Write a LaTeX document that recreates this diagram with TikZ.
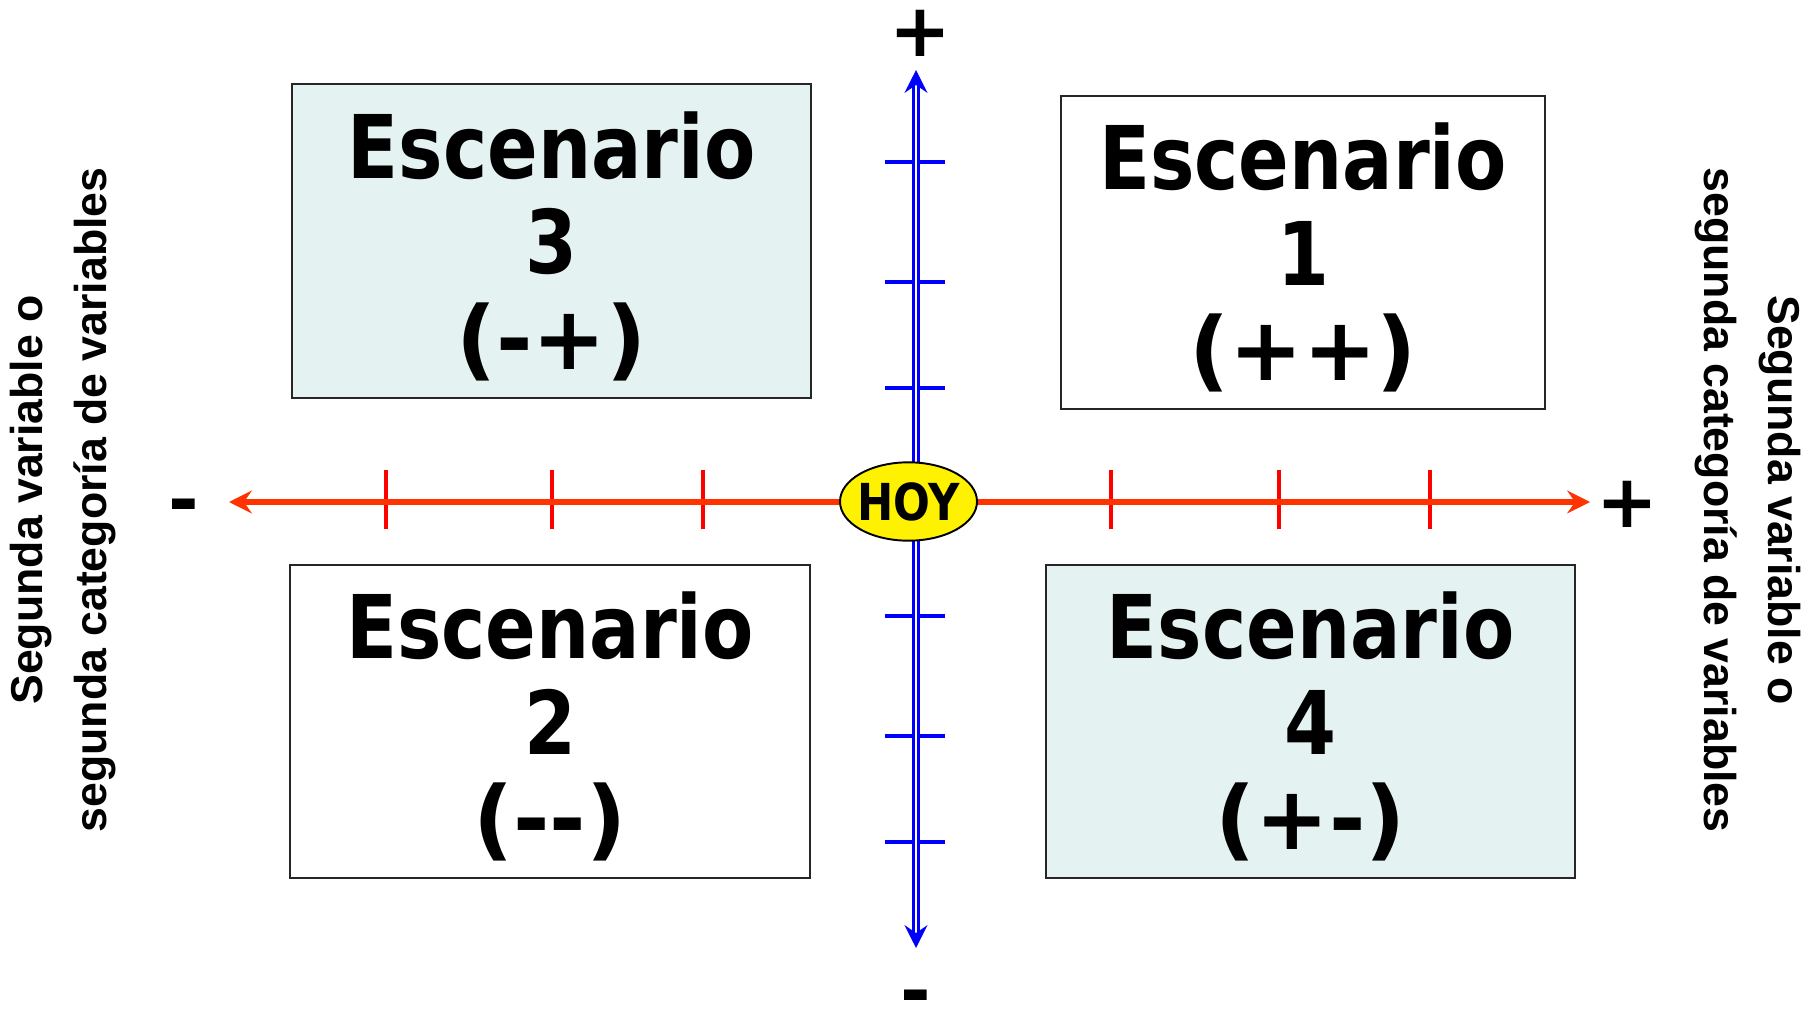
\documentclass[tikz,border=0pt]{standalone}
\usepackage{fontspec}
\usepackage{tikz}
\usetikzlibrary{arrows.meta,shapes.geometric}
\newfontfamily\scenfont[FakeStretch=0.85]{DejaVu Sans}
\newfontfamily\signfont{DejaVu Sans}
\newfontfamily\sidefont{Liberation Sans}
\definecolor{axisorange}{RGB}{255,51,0}
\definecolor{tickred}{RGB}{255,0,0}
\definecolor{scenblue}{RGB}{229,242,242}

\tikzset{
    scenbox/.style={draw=black!85, line width=0.8pt},
    scentext/.style={font=\scenfont\bfseries\fontsize{50}{54.3}\selectfont, align=center, inner sep=0pt, yshift=-3pt},
    haxis/.style={draw=axisorange, line width=3.7pt, -{Stealth[length=13pt,width=13pt,inset=4.5pt]}},
    vaxis/.style={draw=blue, double=white, line width=1.7pt, double distance=1.1pt, -{Stealth[length=13pt,width=13pt,inset=4.5pt]}},
    htick/.style={draw=tickred, line width=2.8pt},
    vtick/.style={draw=blue, line width=2.8pt},
    sign/.style={font=\signfont\bfseries\fontsize{42}{42}\selectfont, inner sep=0pt},
    sidelab/.style={font=\sidefont\bfseries\fontsize{25.4}{36.4}\selectfont, align=center, inner sep=0pt},
    hoy/.style={ellipse, draw=black, line width=1.1pt, fill=yellow, minimum width=27.4mm, minimum height=15.4mm, inner xsep=-2pt, inner ysep=4.8pt, font=\scenfont\bfseries\fontsize{29}{29}\selectfont}
}

\begin{document}
\begin{tikzpicture}[x=0.2mm, y=-0.2mm]
    \useasboundingbox (0,0) rectangle (1811,1009);

    % Scenario boxes
    \draw[scenbox, fill=scenblue] (292,84) rectangle (811,398);
    \draw[scenbox] (1061,96) rectangle (1545,409);
    \draw[scenbox] (290,565) rectangle (810,878);
    \draw[scenbox, fill=scenblue] (1046,565) rectangle (1575,878);
    \node[scentext] (esc3) at (551.5,241) {Escenario\\3\\{\signfont (-+)}};
    \node[scentext] (esc1) at (1303,252.5) {Escenario\\1\\{\signfont (++)}};
    \node[scentext] (esc2) at (550,721.5) {Escenario\\2\\{\signfont (-{}-)}};
    \node[scentext] (esc4) at (1310.5,721.5) {Escenario\\4\\{\signfont (+-)}};

    % Ticks
    \foreach \x in {386, 552, 703, 1111, 1279, 1430} \draw[htick] (\x,470) -- (\x,529);
    \foreach \y in {162, 282, 388, 616, 736, 842} \draw[vtick] (885,\y) -- (945,\y);

    % Axes
    \coordinate (o) at (916,502);
    \coordinate (xl) at (229,502);
    \coordinate (xr) at (1590,502);
    \coordinate (yt) at (916,70);
    \coordinate (yb) at (916,948);
    \draw[haxis] (o) -- (xl);
    \draw[haxis] (o) -- (xr);
    \draw[vaxis] (o) -- (yt);
    \draw[vaxis] (o) -- (yb);

    \node[hoy] (hoy) at (908.5,501.5) {HOY};

    % Signs
    \node[sign] (ytop) at (920,33) {+};
    \node[sign, anchor=base] (ybot) at (916,1016) {-};
    \node[sign, anchor=base] (xneg) at (184,525) {-};
    \node[sign] (xpos) at (1627,504) {+};

    % Side labels
    \node[sidelab, rotate=90] (leftlab) at (63,500) {Segunda variable o\\segunda categoría de variables};
    \node[sidelab, rotate=-90] (rightlab) at (1748,500) {Segunda variable o\\segunda categoría de variables};
\end{tikzpicture}
\end{document}
